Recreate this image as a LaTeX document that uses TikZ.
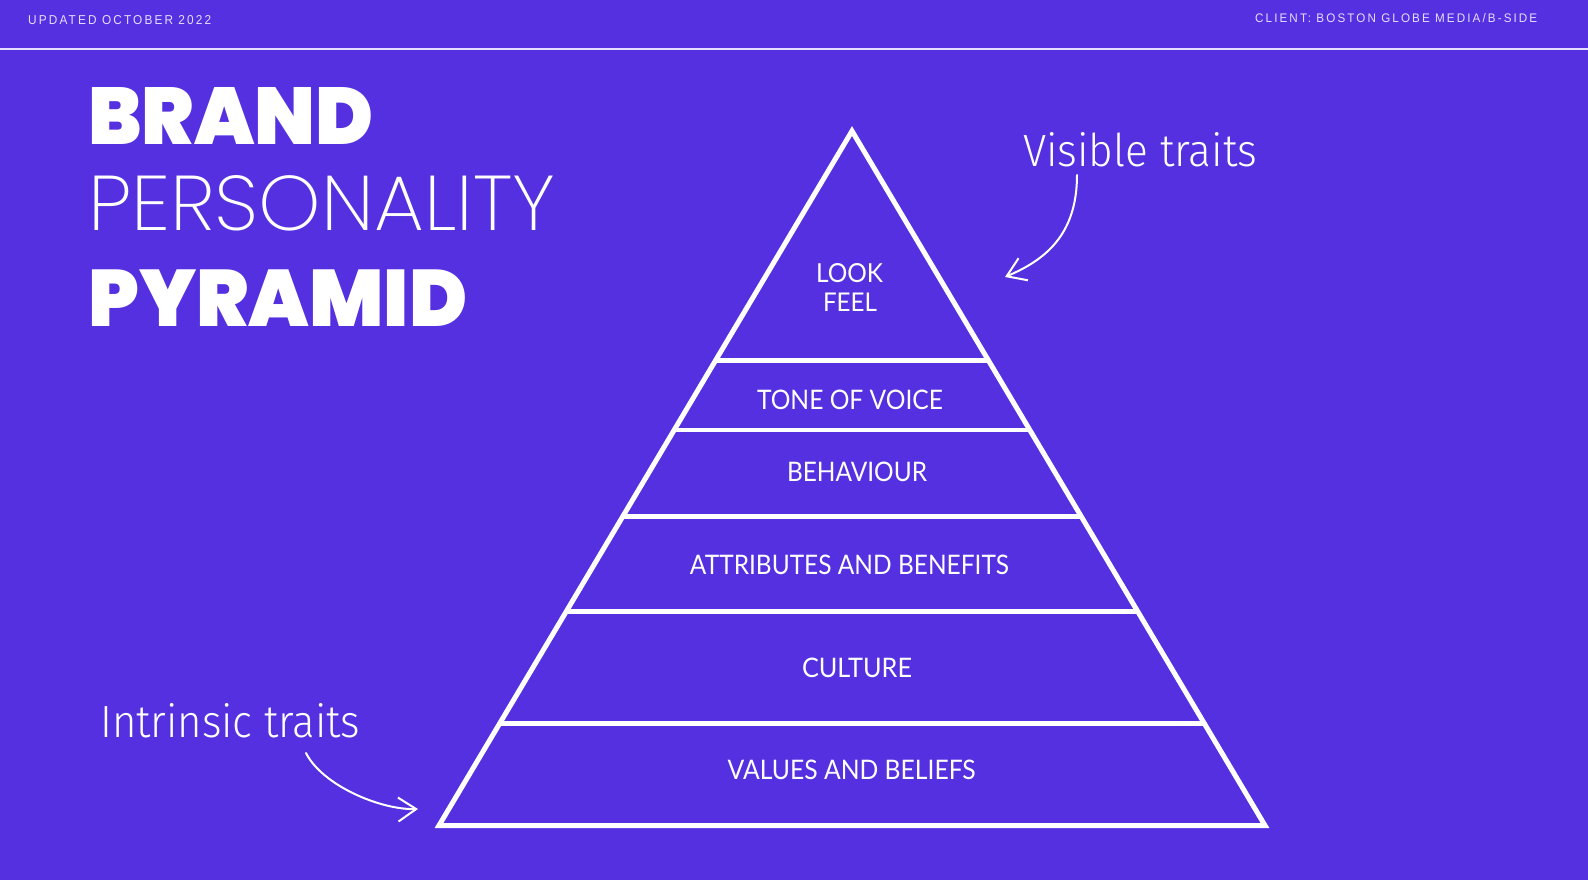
\documentclass[tikz,border=0pt]{standalone}
\usepackage{fontspec}
\usepackage{graphicx}
\usetikzlibrary{arrows.meta,calc}
\definecolor{bgpurple}{HTML}{5430E0}
\definecolor{lavender}{HTML}{E6DEFF}
% fonts, with fallbacks
\IfFontExistsTF{Poppins Black}{\newfontfamily\heavyfont{Poppins Black}}{\newfontfamily\heavyfont{Poppins}[FakeBold=2.5]}
\IfFontExistsTF{Poppins ExtraLight}{\newfontfamily\thinfont{Poppins ExtraLight}}{\newfontfamily\thinfont{Poppins}}
\IfFontExistsTF{Fira Sans Book}{\newfontfamily\notefont{Fira Sans Book}}{\newfontfamily\notefont{Fira Sans Light}}
\newfontfamily\labelfont{Lato}
\newfontfamily\hdrfont{Liberation Sans}[LetterSpace=18]
\newcommand\fitbox[3]{\resizebox{#1pt}{#2pt}{#3}}

\begin{document}
\begin{tikzpicture}[x=1pt, y=-1pt,
  edge/.style={draw=white, line width=5pt, line join=miter},
  divider/.style={draw=white, line width=4.5pt},
  lbl/.style={text=white, inner sep=0, anchor=base, font=\labelfont},
  hdr/.style={text=lavender, inner sep=0, anchor=base west, font=\hdrfont},
  ttl/.style={text=white, inner sep=0, anchor=base west},
  note/.style={text=white, inner sep=0, anchor=base west, font=\notefont},
  curl/.style={draw=white, line width=2pt, line cap=round,
               -{Straight Barb[length=18pt, width=24pt]}}]
\useasboundingbox (0,0) rectangle (1588,880);
\fill[bgpurple] (0,0) rectangle (1588,880);
% header
\node[hdr] (stamp) at (28,25) {\fitbox{183}{9}{UPDATED OCTOBER 2022}};
\node[hdr] (client) at (1255,23) {\fitbox{282}{9}{CLIENT: BOSTON GLOBE MEDIA/B-SIDE}};
\draw[lavender, line width=1.5pt] (0,49) -- (1588,49);
% title
\node[ttl, font=\heavyfont] (brand) at (88,145) {\fitbox{285}{57}{BRAND}};
\node[ttl, font=\thinfont] (personality) at (88,230) {\fitbox{467}{55}{PERSONALITY}};
\node[ttl, font=\heavyfont] (pyramidword) at (88,326.7) {\fitbox{379}{56.7}{PYRAMID}};
% pyramid
\coordinate (apex) at (852,131);
\coordinate (bl) at (439,825.5);
\coordinate (br) at (1265,825.5);
\draw[edge] (apex) -- (bl) -- (br) -- cycle;
\foreach \y in {360.5,430,516.5,611.7,723.5}
  \draw[divider] ($(apex)!{(\y-131)/694.5}!(bl)$) -- ($(apex)!{(\y-131)/694.5}!(br)$);
\node[lbl] (look) at (849.5,282) {\fitbox{67}{19}{LOOK}};
\node[lbl] (feel) at (850,311) {\fitbox{54}{18.5}{FEEL}};
\node[lbl] (tone) at (850,409.3) {\fitbox{186}{19.5}{TONE OF VOICE}};
\node[lbl] (behaviour) at (857,481) {\fitbox{140}{19.5}{BEHAVIOUR}};
\node[lbl] (attributes) at (849.5,574) {\fitbox{319}{19.5}{ATTRIBUTES AND BENEFITS}};
\node[lbl] (culture) at (857,677) {\fitbox{110}{19.5}{CULTURE}};
\node[lbl] (values) at (851.7,779.4) {\fitbox{248}{19.5}{VALUES AND BELIEFS}};
% side notes
\node[note] (visible) at (1023,167) {\fitbox{234}{34}{Visible traits}};
\node[note] (intrinsic) at (100,737) {\fitbox{260}{34}{Intrinsic traits}};
\coordinate (visend) at (1005,277);
\coordinate (intend) at (418,809);
\draw[curl] ([shift={(54,8)}]visible.base west) .. controls +(0,60) and +(40,-17) .. (visend);
\draw[curl] ([shift={(206,16)}]intrinsic.base west) .. controls +(16,32) and +(-38,1) .. (intend);
\end{tikzpicture}
\end{document}
